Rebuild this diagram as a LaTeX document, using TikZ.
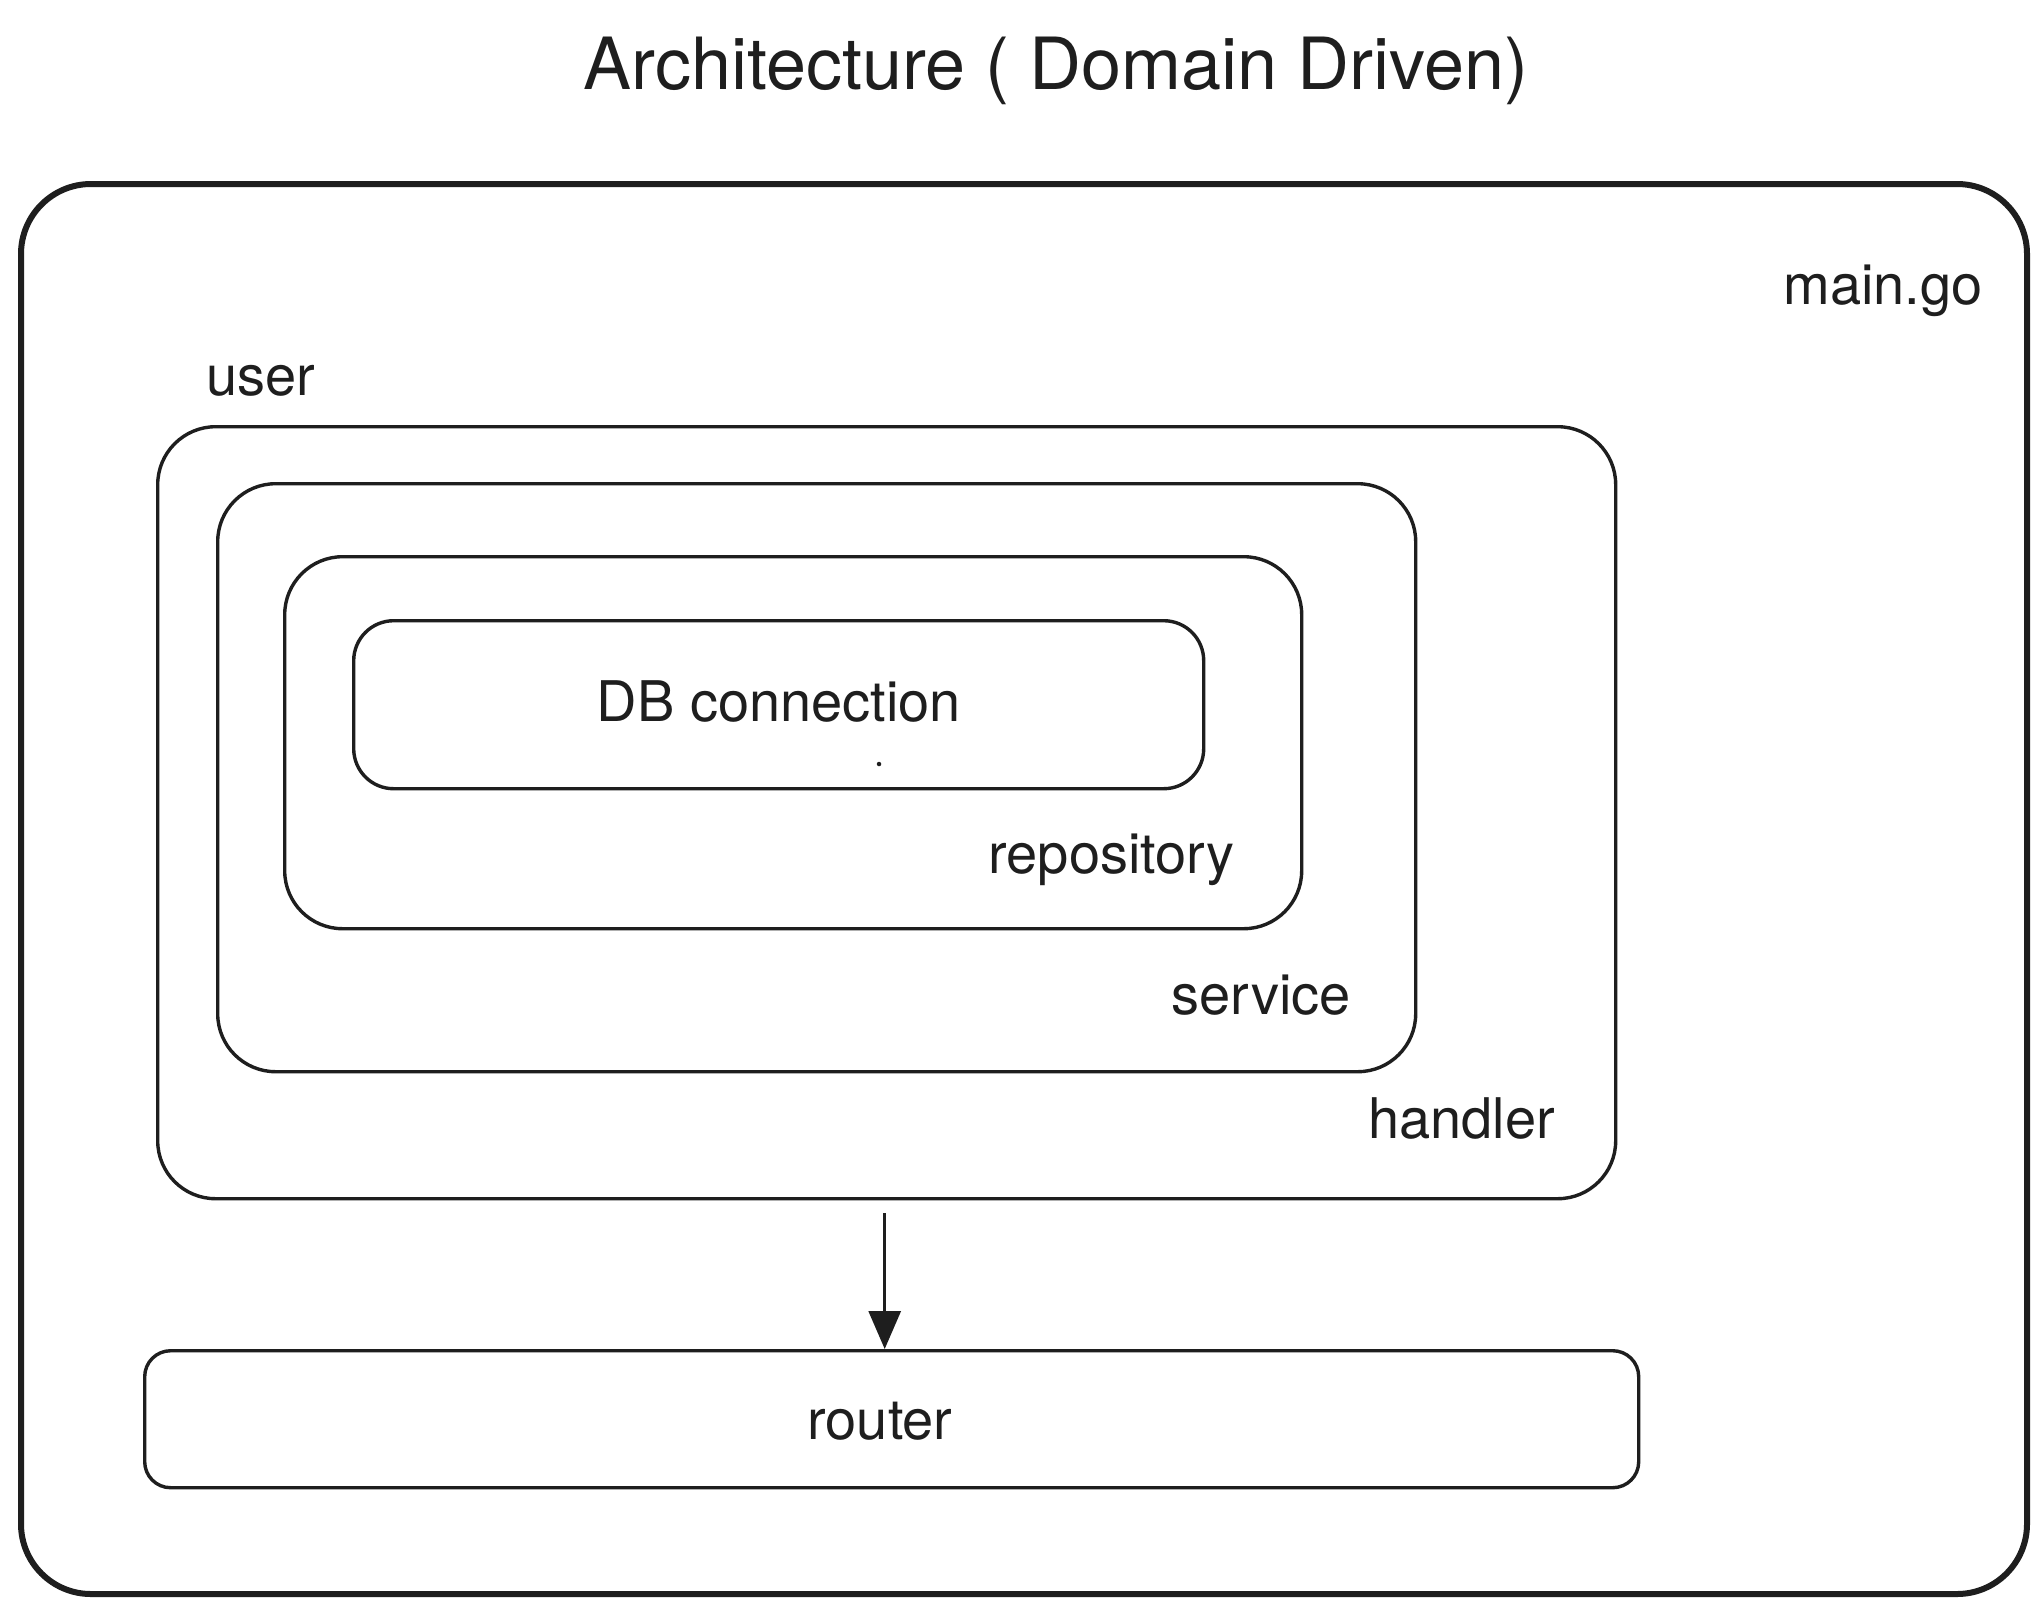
\documentclass[tikz,border=0pt]{standalone}
\usepackage{fontspec}
\setmainfont{TeX Gyre Heros}
\usetikzlibrary{arrows.meta}
\definecolor{ink}{HTML}{1E1E1E}
\begin{document}
\begin{tikzpicture}[x=1pt,y=-1pt,
  box/.style={draw=ink, rectangle, anchor=north west, inner sep=0pt, line width=3.4pt},
  lbl/.style={text=ink, inner sep=0pt, font=\fontsize{56}{60}\selectfont},
  arr/.style={draw=ink, line width=3pt, -{Triangle[length=38pt,width=32pt]}}]
\useasboundingbox[fill=white] (0,0) rectangle (2044,1612);
% title
\node[lbl, anchor=base, font=\fontsize{72}{76}\selectfont] (title) at (1056,89) {Architecture ( Domain Driven)};
% outer main.go box
\node[box, line width=6pt, rounded corners=70pt, minimum width=2006pt, minimum height=1410pt] (main) at (18,181) {};
\node[lbl, anchor=base east] (mainlbl) at (1983,304) {main.go};
% user / handler
\node[lbl, anchor=base west] (userlbl) at (206,395) {user};
\node[box, rounded corners=58pt, minimum width=1458pt, minimum height=772pt] (handler) at (156,425) {};
\node[lbl, anchor=base east] (handlerlbl) at (1555,1138) {handler};
% service
\node[box, rounded corners=58pt, minimum width=1198pt, minimum height=588pt] (service) at (216,482) {};
\node[lbl, anchor=base east] (servicelbl) at (1351,1014) {service};
% repository
\node[box, rounded corners=58pt, minimum width=1017pt, minimum height=372pt] (repo) at (283,555) {};
\node[lbl, anchor=base east] (repolbl) at (1235,873) {repository};
% DB connection
\node[box, rounded corners=40pt, minimum width=850pt, minimum height=168pt] (db) at (352,619) {};
\node[lbl, anchor=base] (dblbl) at (779,721) {DB connection};
\node[circle, fill=ink, inner sep=0pt, minimum size=4.5pt] (dot) at (879,764) {};
% router
\node[box, rounded corners=26pt, minimum width=1494pt, minimum height=137pt] (router) at (143,1349) {};
\node[lbl, anchor=base] (routerlbl) at (880,1439) {router};
% arrow
\draw[arr, shorten <=13pt] ([xshift=-2pt]handler.south) -- ([xshift=-2pt]handler.south |- router.north);
\end{tikzpicture}
\end{document}
